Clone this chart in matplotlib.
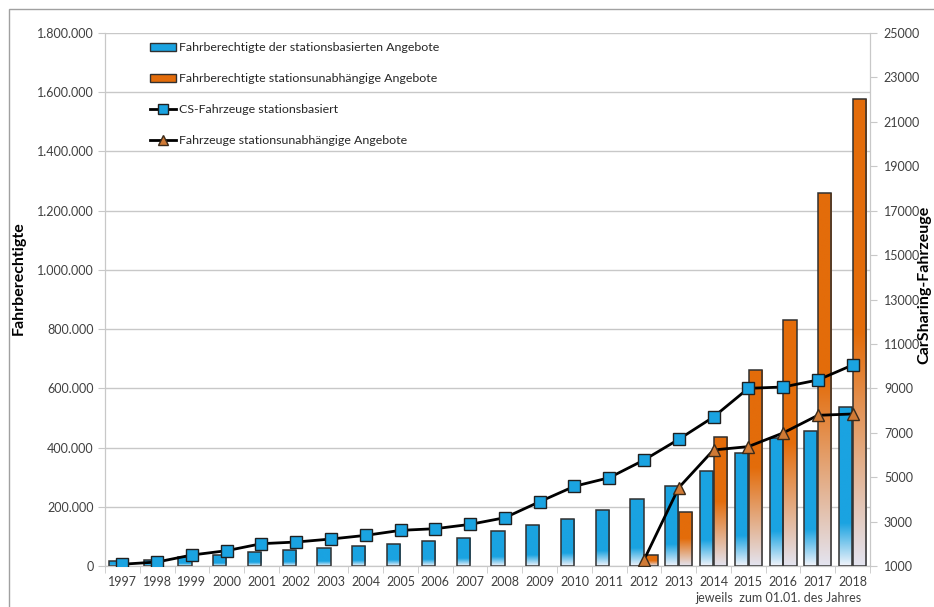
import matplotlib
matplotlib.use("Agg")
import matplotlib.pyplot as plt
import numpy as np
from matplotlib.colors import LinearSegmentedColormap
from matplotlib.lines import Line2D
from matplotlib.patches import Patch, Rectangle
from matplotlib.ticker import FuncFormatter

plt.rcParams['font.family'] = ['Lato', 'DejaVu Sans']

years = ["1997", "1998", "1999", "2000", "2001", "2002", "2003", "2004", "2005", "2006", "2007",
         "2008", "2009", "2010", "2011", "2012", "2013", "2014", "2015", "2016", "2017", "2018"]
# Fahrberechtigte stationsbasiert (left axis)
users_station = [16000, 20000, 31000, 37000, 46000, 54000, 60000, 69000, 75000, 83000, 95000,
                 117000, 137000, 159000, 190000, 225000, 271000, 321000, 381000, 433000, 456000, 536000]
# Fahrberechtigte stationsunabhängig (left axis), from 2012
users_free = [None] * 15 + [37000, 183000, 437000, 662000, 832000, 1260000, 1576000]
# CS-Fahrzeuge stationsbasiert (right axis)
cars_station = [1080, 1180, 1495, 1690, 2005, 2080, 2215, 2380, 2605, 2680, 2875,
                3175, 3895, 4590, 4975, 5770, 6705, 7710, 9000, 9060, 9375, 10050]
# Fahrzeuge stationsunabhängig (right axis), from 2012
cars_free = [None] * 15 + [1270, 4525, 6225, 6375, 6990, 7785, 7845]

left_ticks = list(range(0, 1800001, 200000))
right_ticks = list(range(1000, 25001, 2000))

BLUE = "#1AA3E1"
ORANGE = "#E36C0A"
TXT = "#404040"
GRID = "#C8C8C8"

fig = plt.figure(figsize=(9.34, 6.07), dpi=100)
fig.patches.append(Rectangle((9 / 934, -0.1), 1.2, 1 - 9 / 607 + 0.1, transform=fig.transFigure,
                             fill=False, edgecolor="#A0A0A0", lw=1))
ax = fig.add_axes([105 / 934, 1 - 566 / 607, 765 / 934, 533 / 607])
ax2 = ax.twinx()

x = np.arange(len(years))
w = 0.38
off = 0.2

cmap_b = LinearSegmentedColormap.from_list("b", [(0, "#F2F4FB"), (0.27, BLUE), (1, BLUE)])
cmap_o = LinearSegmentedColormap.from_list("o", [(0, "#E4E4F0"), (0.5, ORANGE), (1, ORANGE)])
grad = np.linspace(1, 0, 256).reshape(-1, 1)


def gradient_bars(xs, vals, cmap):
    for xi, v in zip(xs, vals):
        if v is None:
            continue
        bar = ax.bar(xi, v, width=w, facecolor="none", edgecolor="#303030", lw=1.1, zorder=3)[0]
        im = ax.imshow(grad, cmap=cmap, aspect="auto", extent=(xi - w / 2, xi + w / 2, 0, v),
                       zorder=2, interpolation="bilinear")
        im.set_clip_path(bar)


gradient_bars(x - off, users_station, cmap_b)
gradient_bars(x + off, users_free, cmap_o)

ax.set_xlim(-0.5, len(years) - 0.5)
ax.set_ylim(0, 1800000)
ax.set_yticks(left_ticks)
ax.yaxis.set_major_formatter(FuncFormatter(lambda v, p: "0" if v == 0 else f"{int(v):,}".replace(",", ".")))
ax.grid(axis="y", color=GRID, lw=1, zorder=0)
ax.set_axisbelow(True)
ax.set_xticks(x)
ax.set_xticklabels(years)
ax.set_xticks(np.arange(-0.5, len(years), 1), minor=True)
ax.tick_params(axis="x", which="major", length=0, pad=7, labelsize=9, colors=TXT)
ax.tick_params(axis="x", which="minor", length=5, color=GRID)
ax.tick_params(axis="y", length=5, color=GRID, labelsize=9, colors=TXT, pad=3)
for s in ["left", "bottom", "right", "top"]:
    ax.spines[s].set_color(GRID)
ax.spines["top"].set_visible(False)

ax2.set_ylim(1000, 25000)
ax2.set_yticks(right_ticks)
ax2.tick_params(axis="y", length=5, color=GRID, labelsize=9, colors=TXT, pad=5)
for s in ["left", "bottom", "right", "top"]:
    ax2.spines[s].set_color(GRID)
ax2.spines["top"].set_visible(False)

xs_f = [xi for xi, v in zip(x, cars_free) if v is not None]
vs_f = [v for v in cars_free if v is not None]
ax2.plot(x, cars_station, color="black", lw=2, marker="s", markersize=8.5,
         markerfacecolor=BLUE, markeredgecolor="#202020", markeredgewidth=1, zorder=5)
ax2.plot(xs_f, vs_f, color="black", lw=2, marker="^", markersize=8,
         markerfacecolor="#D07A35", markeredgecolor="#3A2A1A", markeredgewidth=1, zorder=5)

ax.set_ylabel("Fahrberechtigte", fontsize=11.5, fontweight="bold", color="black")
ax.yaxis.set_label_coords(-0.104, 0.54)
fig.text(924 / 934, 1 - 285 / 607, "CarSharing-Fahrzeuge", rotation=90, fontsize=11.5,
         fontweight="bold", ha="center", va="center", color="black")
fig.text(862 / 934, 1 - 598 / 607, "jeweils  zum 01.01. des Jahres", fontsize=9,
         ha="right", va="center", color=TXT)

handles = [
    Patch(facecolor=BLUE, edgecolor="#303030", lw=1),
    Patch(facecolor=ORANGE, edgecolor="#303030", lw=1),
    Line2D([], [], color="black", lw=2, marker="s", markersize=7, markerfacecolor=BLUE,
           markeredgecolor="#202020"),
    Line2D([], [], color="black", lw=2, marker="^", markersize=7, markerfacecolor="#D07A35",
           markeredgecolor="#3A2A1A"),
]
labels = ["Fahrberechtigte der stationsbasierten Angebote",
          "Fahrberechtigte stationsunabhängige Angebote",
          "CS-Fahrzeuge stationsbasiert",
          "Fahrzeuge stationsunabhängige Angebote"]
leg = ax2.legend(handles, labels, loc="upper left", bbox_to_anchor=(139 / 934, 1 - 31 / 607),
                 bbox_transform=fig.transFigure, frameon=False, fontsize=8.9,
                 labelspacing=1.62, handlelength=2.1, handletextpad=0.2, handleheight=0.65)
for t in leg.get_texts():
    t.set_color("#262626")

fig.savefig("out.png", dpi=100)
